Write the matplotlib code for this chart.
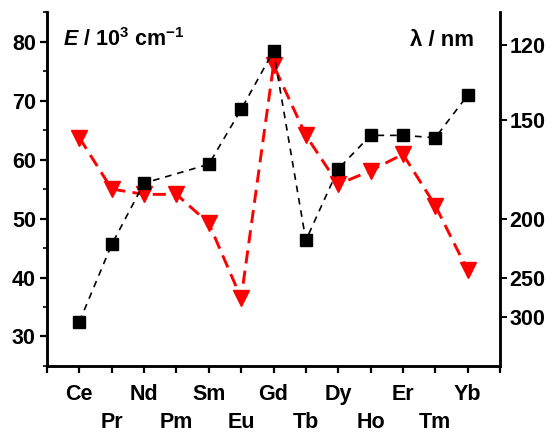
import matplotlib
matplotlib.use("Agg")
import matplotlib.pyplot as plt
import numpy as np

plt.rcParams['font.family'] = ['Liberation Sans', 'DejaVu Sans']
plt.rcParams['font.weight'] = 'bold'
plt.rcParams['mathtext.fontset'] = 'custom'
plt.rcParams['mathtext.rm'] = 'Liberation Sans:bold'
plt.rcParams['mathtext.bf'] = 'Liberation Sans:bold'
plt.rcParams['mathtext.it'] = 'Liberation Sans:bold:italic'

elements = ['Ce', 'Pr', 'Nd', 'Pm', 'Sm', 'Eu', 'Gd', 'Tb', 'Dy', 'Ho', 'Er', 'Tm', 'Yb']
black_E = [32.5, 45.6, 56.0, np.nan, 59.2, 68.5, 78.4, 46.3, 58.4, 64.1, 64.1, 63.7, 70.9]
red_E = [63.7, 55.0, 54.1, 54.1, 49.2, 36.5, 76.0, 64.1, 55.8, 58.1, 60.9, 52.2, 41.2]
left_ticks = [30, 40, 50, 60, 70, 80]
right_labels = ['120', '150', '200', '250', '300']
right_pos = [79.5, 66.7, 50.0, 40.0, 33.3]

x = np.arange(1, len(elements) + 1)

fig = plt.figure(figsize=(5.55, 4.32), dpi=100)
ax = fig.add_axes([0.0847, 0.1528, 0.8162, 0.8192])

bx = x[~np.isnan(black_E)]
by = np.array(black_E)[~np.isnan(black_E)]
ax.plot(bx, by, color='black', lw=1.2, ls=(0, (4, 3.5)), marker='s', ms=9,
        mfc='black', mec='black', zorder=3)
ax.plot(x, red_E, color='#ff0000', lw=2.1, ls=(0, (4.5, 2.5)), marker='v', ms=11,
        mfc='#ff0000', mec='#ff0000', zorder=2)

ax.set_xlim(0, 14)
ax.set_ylim(25, 85)
ax.set_xticks(np.arange(0, 15))
labs = [''] + [e if i % 2 == 0 else '\n' + e for i, e in enumerate(elements)] + ['']
ax.set_xticklabels(labs)
for t in ax.get_xticklabels():
    t.set_linespacing(1.42)
ax.set_yticks(left_ticks)
ax.set_yticks(np.arange(25, 86, 10), minor=True)

ax.spines['top'].set_visible(False)
for s in ['left', 'bottom', 'right']:
    ax.spines[s].set_linewidth(1.8)
ax.tick_params(axis='both', which='major', direction='out', length=5, width=1.6,
               labelsize=15.5, pad=3)
ax.tick_params(axis='x', which='major', pad=8)
ax.tick_params(axis='y', which='minor', direction='out', length=3, width=1.2)

ax2 = ax.twinx()
ax2.set_ylim(25, 85)
ax2.set_yticks(right_pos)
ax2.set_yticklabels(right_labels)
ax2.spines['top'].set_visible(False)
for s in ['left', 'bottom', 'right']:
    ax2.spines[s].set_linewidth(1.8)
ax2.tick_params(axis='y', direction='out', length=5, width=1.4, labelsize=15.5, pad=2)

ax.text(0.035, 0.904, r'$E$ / 10$^3$ cm$^{-1}$', transform=ax.transAxes,
        fontsize=15.5, fontweight='bold', ha='left', va='baseline')
ax.text(0.9426, 0.904, 'λ / nm', transform=ax.transAxes,
        fontsize=16, fontweight='bold', ha='right', va='baseline')

fig.savefig('out.png', dpi=100)
